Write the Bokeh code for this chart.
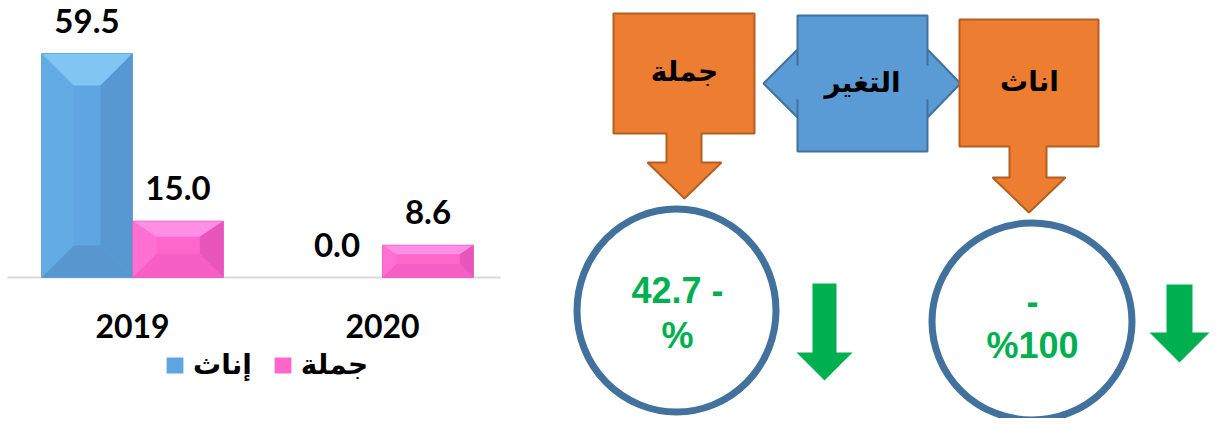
from bokeh.plotting import figure
from bokeh.models import Range1d, Legend, LegendItem
from bokeh.core.properties import value
from bokeh.embed import file_html
from bokeh.resources import INLINE

# ---------------- data ----------------
years = ["2019", "2020"]
series_names = ["إناث", "جملة"]
females = [59.5, 0.0]
total = [15.0, 8.6]
box_labels = ["جملة", "التغير", "اناث"]


def pct_change(vals):
    return (vals[1] - vals[0]) / vals[0] * 100.0


chg_total = pct_change(total)
chg_fem = pct_change(females)

# ---------------- styles ----------------
BLUE = dict(main="#5fa5e1", top="#80c6f4", left="#63abe5", right="#5898d2", bottom="#5896d0")
PINK = dict(main="#ff66cc", top="#ff8fe4", left="#ff70d2", right="#e856bd", bottom="#f75ec6")
ORANGE, ORANGE_LINE = "#ed7d31", "#b45f22"
SHAPE_BLUE, SHAPE_BLUE_LINE = "#5b9bd5", "#41719c"
GREEN = "#00b050"

# ---------------- figure ----------------
W, H = 1213, 418
GROUP_PX = 250.0          # pixels between the two year groups
Y_PPU = 224 / 59.5        # pixels per value unit
BASE_PX = 277             # baseline, pixels from top
GROUP0_PX = 132
x_start = -GROUP0_PX / GROUP_PX
y_start = -(H - BASE_PX) / Y_PPU

p = figure(width=W, height=H, output_backend="svg", toolbar_location=None,
           x_range=Range1d(x_start, x_start + W / GROUP_PX),
           y_range=Range1d(y_start, y_start + H / Y_PPU),
           x_axis_location=None, y_axis_location=None, min_border=0)
p.extra_x_ranges = {"dx": Range1d(0, W)}
p.extra_y_ranges = {"dy": Range1d(H, 0)}
p.grid.visible = False
p.outline_line_color = None

# ---------------- bar chart ----------------
off = 45.5 / GROUP_PX
bw = 91.0 / GROUP_PX
xf = [i - off for i in range(len(years))]
xt = [i + off for i in range(len(years))]

# baseline
p.segment(x0=[(7 - GROUP0_PX) / GROUP_PX], y0=[0], x1=[(500 - GROUP0_PX) / GROUP_PX], y1=[0],
          line_color="#d9d9d9", line_width=2)

rf = p.vbar(x=xf, top=females, width=bw, fill_color=BLUE["main"], line_color=None)
rt = p.vbar(x=xt, top=total, width=bw, fill_color=PINK["main"], line_color=None)


def bevel(xs, tops, cols, dmax):
    pxs, pys, pcs = [], [], []
    for xc, t in zip(xs, tops):
        if t <= 0:
            continue
        hpx = t * Y_PPU
        dt = min(dmax, hpx * 0.28) / Y_PPU
        db = min(dmax, hpx * 0.42) / Y_PPU
        ds = min(dmax, hpx * 0.42) / GROUP_PX
        x0, x1 = xc - bw / 2, xc + bw / 2
        pxs.append([x0, x1, x1 - ds, x0 + ds]); pys.append([t, t, t - dt, t - dt]); pcs.append(cols["top"])
        pxs.append([x0, x1, x1 - ds, x0 + ds]); pys.append([0, 0, db, db]); pcs.append(cols["bottom"])
        pxs.append([x0, x0, x0 + ds, x0 + ds]); pys.append([0, t, t - dt, db]); pcs.append(cols["left"])
        pxs.append([x1, x1, x1 - ds, x1 - ds]); pys.append([0, t, t - dt, db]); pcs.append(cols["right"])
    return pxs, pys, pcs


for xs_, tops_, cols_ in ((xf, females, BLUE), (xt, total, PINK)):
    bx, by, bc = bevel(xs_, tops_, cols_, 32)
    p.patches(bx, by, fill_color=bc, line_color=None)
    p.vbar(x=xs_, top=tops_, width=bw, fill_color=None, line_color=cols_["right"],
           line_width=1, line_alpha=[0.7 if v > 0 else 0 for v in tops_])

lab_font = value("Lato")
p.text(x=xf + xt, y=females + total, text=[f"{v:.1f}" for v in females + total],
       text_font=lab_font, text_font_style="bold", text_font_size="33px",
       text_color="black", text_align="center", text_baseline="alphabetic", y_offset=-33)

# category labels
p.text(x=list(range(len(years))), y=[0] * len(years), text=years,
       text_font=lab_font, text_font_style="bold", text_font_size="32px",
       text_color="black", text_align="center", text_baseline="alphabetic", y_offset=48)

legend = Legend(items=[LegendItem(label=series_names[0], renderers=[rf]),
                       LegendItem(label=series_names[1], renderers=[rt])],
                orientation="horizontal", location=(164, 37),
                label_text_font="DejaVu Sans", label_text_font_style="bold",
                label_text_font_size="28px", label_text_color="black",
                glyph_width=21, glyph_height=20, label_standoff=8, spacing=20,
                padding=2, margin=0, border_line_color=None, background_fill_alpha=0)
p.add_layout(legend)

# ---------------- diagram ----------------
R = dict(x_range_name="dx", y_range_name="dy")


def down_callout(x0, x1, y0, y1, sx0, sx1, hy, hx0, hx1, tip):
    tx = (hx0 + hx1) / 2
    return ([x0, x1, x1, sx1, sx1, hx1, tx, hx0, sx0, sx0, x0],
            [y0, y0, y1, y1, hy, hy, tip, hy, hy, y1, y1])


bxs = [797, 927, 927, 960, 927, 927, 797, 797, 763, 797]
bys = [15, 15, 49, 83, 117, 151, 151, 117, 83, 49]
p.patch(bxs, bys, fill_color=SHAPE_BLUE, line_color=SHAPE_BLUE_LINE, line_width=2, **R)
p.multi_line([[797, 797], [797, 797], [927, 927], [927, 927]],
             [[49, 65], [99, 117], [49, 65], [99, 117]],
             line_color=SHAPE_BLUE_LINE, line_width=2, **R)

c1 = down_callout(613, 754, 13, 133, 666, 701, 162, 647, 721, 198)
c2 = down_callout(959, 1098, 19, 146, 1009, 1046, 177, 992, 1065, 212)
p.patches([c1[0], c2[0]], [c1[1], c2[1]], fill_color=ORANGE,
          line_color=ORANGE_LINE, line_width=2, **R)

arabic = value("DejaVu Sans")
p.text(x=[684, 862, 1029], y=[71, 82, 81], text=box_labels, text_font=arabic,
       text_font_style="bold", text_font_size="28px", text_color="black",
       text_align="center", text_baseline="middle", **R)

p.ellipse(x=[676, 1031.5], y=[310, 321], width=[199, 200], height=[203, 197],
          fill_color=None, line_color=SHAPE_BLUE_LINE, line_width=7, **R)

g1 = down_callout(812, 836, 283, 283, 812, 836, 352, 796, 852, 380)
g2 = down_callout(1166, 1192, 284, 284, 1166, 1192, 332, 1149, 1209, 362)
p.patches([g1[0], g2[0]], [g1[1], g2[1]], fill_color=GREEN, line_color=None, **R)

pct_font = value("Liberation Sans")
p.text(x=[677, 677, 1032, 1032], y=[290, 335, 300, 345],
       text=[f"{abs(chg_total):.1f} -", "%", "-", f"%{abs(chg_fem):.0f}"],
       text_font=pct_font, text_font_style="bold", text_font_size="36px",
       text_color=GREEN, text_align="center", text_baseline="alphabetic", **R)

open("out.html", "w").write(file_html(p, INLINE))
